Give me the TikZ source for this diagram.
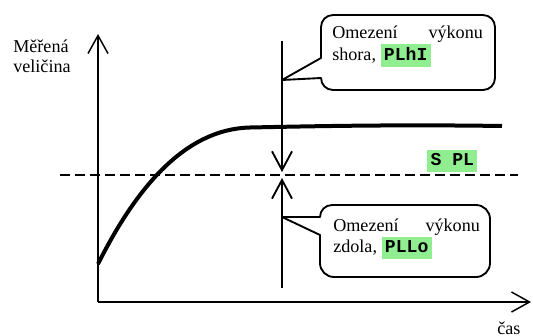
\documentclass[tikz,border=0pt]{standalone}
\usepackage{fontspec}
\setmainfont{Liberation Serif}
\setmonofont{Liberation Mono}
\usetikzlibrary{arrows.meta}
\definecolor{hlgreen}{HTML}{90EE90}
\newcommand{\hlbox}[1]{{\setlength{\fboxsep}{2.5pt}\colorbox{hlgreen}{\rule[-3pt]{0pt}{10.5pt}\ttfamily\bfseries #1}}}
\begin{document}
\begin{tikzpicture}[x=0.75pt,y=-0.75pt,
  txt/.style={anchor=base west,inner sep=0pt,font=\fontsize{13.6pt}{16pt}\selectfont},
  axisline/.style={line width=1.1pt,-{Straight Barb[length=13.5pt,width=15pt,line width=1.1pt]}},
  limarrow/.style={line width=1.4pt,-{Straight Barb[length=14pt,width=15pt,line width=1.4pt]}},
  calloutbox/.style={line width=1.4pt,line join=round,fill=white},
  curveline/.style={line width=3pt},
  setline/.style={line width=1.1pt,dash pattern=on 7.5pt off 3.75pt}]
\useasboundingbox (0,0) rectangle (533,336);
% axes
\coordinate (O) at (98,302);
\coordinate (ytop) at (98,34);
\coordinate (xend) at (531,302);
\draw[axisline] (O) -- (ytop);
\draw[axisline] (O) -- (xend);
% set point line
\coordinate (dl) at (60,175);
\coordinate (dr) at (518,175);
\draw[setline] (dl) -- (dr);
% response curve
\draw[curveline] (98,264) .. controls (136,188) and (185,129) .. (250,127.5) .. controls (320,126) and (400,124.5) .. (502,126);
% limit arrows
\coordinate (atop) at (282,41);
\coordinate (atip1) at (282,172);
\coordinate (abot) at (282,288);
\coordinate (atip2) at (282,178);
\draw[limarrow] (atop) -- (atip1);
\draw[limarrow] (abot) -- (atip2);
% upper callout
\coordinate (tipU) at (282,80);
\draw[calloutbox] (321,78) -- (tipU) -- (321,58) -- (321,27)
  arc[start angle=180,end angle=270,radius=12] -- (483,15)
  arc[start angle=270,end angle=360,radius=12] -- (495,78)
  arc[start angle=0,end angle=90,radius=12] -- (333,90)
  arc[start angle=90,end angle=180,radius=12] -- cycle;
% lower callout
\coordinate (tipL) at (282,217);
\draw[calloutbox] (tipL) -- (320,235) -- (320,263)
  arc[start angle=180,end angle=90,radius=14] -- (476,277)
  arc[start angle=90,end angle=0,radius=14] -- (490,219)
  arc[start angle=0,end angle=-90,radius=14] -- (332,205)
  arc[start angle=270,end angle=180,radius=12] -- cycle;
% texts
\node[txt] (u1) at (332,38) {\hbox to 113pt{Omezení\hfill výkonu}};
\node[txt] (u2) at (332,60) {shora, \hlbox{PLhI}};
\node[txt] (l1) at (333,231) {\hbox to 110pt{Omezení\hfill výkonu}};
\node[txt] (l2) at (333,252) {zdola, \hlbox{PLLo}};
\node[txt] (sp) at (427,165) {\hlbox{S PL}};
\node[txt] (ylab1) at (13,52) {Měřená};
\node[txt] (ylab2) at (13,72) {veličina};
\node[txt] (xlab) at (497,334) {čas};
\end{tikzpicture}
\end{document}
